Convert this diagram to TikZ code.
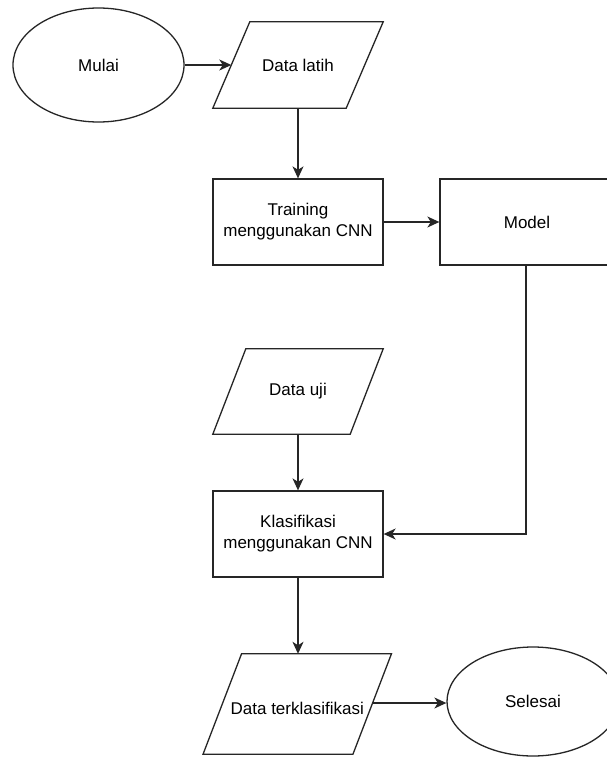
\documentclass[tikz,border=0pt]{standalone}
\usepackage{fontspec}
\setmainfont{Liberation Sans}
\usetikzlibrary{shapes.geometric,arrows.meta}
\begin{document}
\begin{tikzpicture}[x=1pt,y=-1pt,
  every node/.style={font=\fontsize{17}{21}\selectfont, align=center, inner sep=0pt},
  line/.style={line width=1.3pt, draw=black!85},
  arr/.style={line, -{Stealth[length=12pt,width=11pt,inset=3.5pt]}},
  termbox/.style={ellipse, line},
  procbox/.style={rectangle, line},
  iobox/.style={rectangle}]
\clip (0,0) rectangle (607,758);
\fill[white] (0,0) rectangle (607,758);
% nodes
\node[termbox, minimum width=171pt, minimum height=114pt] (mulai) at (98.5,65) {Mulai};
\node[iobox, minimum width=133pt, minimum height=86pt] (dl) at (298,65) {Data latih};
\node[procbox, minimum width=170pt, minimum height=86pt] (train) at (298,222) {Training\\menggunakan CNN};
\node[procbox, minimum width=174pt, minimum height=86pt] (model) at (527,222) {Model};
\node[iobox, minimum width=137pt, minimum height=85pt] (du) at (298,391.5) {Data uji};
\node[procbox, minimum width=170pt, minimum height=86pt] (klas) at (298,534) {Klasifikasi\\menggunakan CNN};
\node[iobox, minimum width=149.5pt, minimum height=100pt] (dt) at (297.25,704) {};
\node at (297.25,708) (dttext) {Data terklasifikasi};
\node[termbox, minimum width=172pt, minimum height=109pt] (sel) at (533,701.5) {Selesai};
% parallelogram outlines
\draw[line, line join=miter] ([xshift=18.5pt]dl.north west) -- ([xshift=18.5pt]dl.north east) -- ([xshift=-18.5pt]dl.south east) -- ([xshift=-18.5pt]dl.south west) -- cycle;
\draw[line, line join=miter] ([xshift=16.5pt]du.north west) -- ([xshift=16.5pt]du.north east) -- ([xshift=-16.5pt]du.south east) -- ([xshift=-16.5pt]du.south west) -- cycle;
\draw[line, line join=miter] ([xshift=19.25pt]dt.north west) -- ([xshift=19.25pt]dt.north east) -- ([xshift=-19.25pt]dt.south east) -- ([xshift=-19.25pt]dt.south west) -- cycle;
% connectors
\draw[arr] (mulai.east) -- (dl.west);
\draw[arr] (dl.south) -- (train.north);
\draw[arr] (train.east) -- (model.west);
\draw[arr] ([xshift=-1pt]model.south) |- (klas.east);
\draw[arr] (du.south) -- (klas.north);
\draw[arr] (klas.south) -- (klas.south |- dt.north);
\draw[arr] ([yshift=1pt]dt.east) -- ([yshift=1pt]dt.east -| sel.west);
\end{tikzpicture}
\end{document}
